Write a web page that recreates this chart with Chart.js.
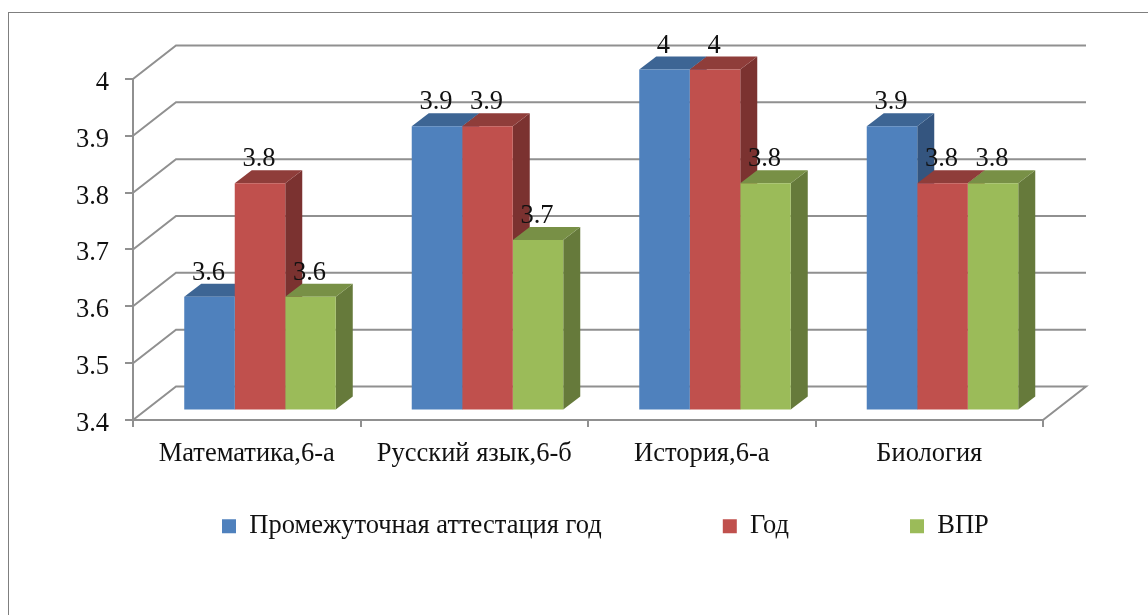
<!DOCTYPE html>
<html lang="ru">
<head>
<meta charset="utf-8">
<title>Chart</title>
<script src="https://cdn.jsdelivr.net/npm/chart.js@4/dist/chart.umd.js"></script>
<style>
    body { margin: 0; background: #fff; overflow: hidden; }
    .frame { position: absolute; left: 8px; top: 12px; width: 1200px; height: 700px; border-left: 1px solid #7f7f7f; border-top: 1px solid #7f7f7f; }
    canvas { position: absolute; left: 0; top: 0; }
</style>
</head>
<body>
<div class="frame"></div>
<canvas id="barChart" width="1148" height="615"></canvas>
<script>
// Chart data
const categories = ['Математика,6-а', 'Русский язык,6-б', 'История,6-а', 'Биология'];
const attestationData = [3.6, 3.9, 4, 3.9];
const yearData = [3.8, 3.9, 4, 3.8];
const vprData = [3.6, 3.7, 3.8, 3.8];
const yTicks = [3.4, 3.5, 3.6, 3.7, 3.8, 3.9, 4];

// Fake 3D settings
const gridColor = '#909090';
const wallX = 43, wallY = 33.5;   // back wall offset
const barX = 13.25, barY = 9.5;   // bars stand a bit inside the floor
const depthX = 17, depthY = 13;   // bar depth
const topColors = ['#3d6594', '#8f3d3a', '#789046'];
const sideColors = ['#34557f', '#7b3230', '#667a3b'];
const fontName = '"Liberation Serif", "Times New Roman", serif';
const fontSize = 26.5;

function drawFace(ctx, points, color) {
    ctx.fillStyle = color;
    ctx.beginPath();
    points.forEach((p, i) => i ? ctx.lineTo(p[0], p[1]) : ctx.moveTo(p[0], p[1]));
    ctx.closePath();
    ctx.fill();
}

// Back wall, side wall and floor lines
function drawWalls(chart) {
    const ctx = chart.ctx, area = chart.chartArea, yScale = chart.scales.y;
    ctx.save();
    ctx.strokeStyle = gridColor;
    ctx.lineWidth = 2;
    yTicks.forEach(value => {
        const y = yScale.getPixelForValue(value);
        ctx.beginPath();
        ctx.moveTo(area.left, y);
        ctx.lineTo(area.left + wallX, y - wallY);
        ctx.lineTo(area.right + wallX, y - wallY);
        if (value === yTicks[0]) ctx.lineTo(area.right, y);
        ctx.stroke();
    });
    ctx.restore();
}

// Top and side faces, left to right so that neighbours overlap properly
function drawBarFaces(chart) {
    const ctx = chart.ctx;
    categories.forEach((name, index) => {
        chart.data.datasets.forEach((dataset, d) => {
            const bar = chart.getDatasetMeta(d).data[index];
            const left = bar.x - bar.width / 2 + barX, right = bar.x + bar.width / 2 + barX;
            const top = bar.y - barY, base = bar.base - barY;
            drawFace(ctx, [[right, top], [right + depthX, top - depthY], [right + depthX, base - depthY], [right, base]], sideColors[d]);
            drawFace(ctx, [[left, top], [left + depthX, top - depthY], [right + depthX, top - depthY], [right, top]], topColors[d]);
        });
    });
}

function drawValueLabels(chart) {
    const ctx = chart.ctx;
    ctx.save();
    ctx.font = fontSize + 'px ' + fontName;
    ctx.fillStyle = '#111';
    ctx.textAlign = 'center';
    ctx.textBaseline = 'alphabetic';
    chart.data.datasets.forEach((dataset, d) => {
        chart.getDatasetMeta(d).data.forEach((bar, i) => {
            ctx.fillText(String(dataset.data[i]), bar.x + barX - 1, bar.y - barY - 17);
        });
    });
    ctx.restore();
}

const bars3d = {
    id: 'bars3d',
    afterLayout(chart) {
        // legend sits higher than its big row padding would allow
        chart.legend.left = 222 - chart.legend.options.labels.padding;
        chart.legend.top = 513 - chart.legend.options.labels.padding;
        chart.legend.right = 1148;
    },
    beforeDatasetsDraw(chart) {
        drawWalls(chart);
        drawBarFaces(chart);
        chart.ctx.save();
        chart.ctx.translate(barX, -barY);
    },
    afterDatasetsDraw(chart) {
        chart.ctx.restore();
        drawValueLabels(chart);
    }
};

function makeDataset(label, data, color) {
    return { label: label, data: data, base: yTicks[0], backgroundColor: color, borderWidth: 0, clip: false, categoryPercentage: 0.666, barPercentage: 1 };
}

function initChart() {
    const ctx = document.getElementById('barChart').getContext('2d');
    new Chart(ctx, {
        type: 'bar',
        data: {
            labels: categories,
            datasets: [
                makeDataset('Промежуточная аттестация год', attestationData, '#4f81bd'),
                makeDataset('Год', yearData, '#c0504d'),
                makeDataset('ВПР', vprData, '#9bbb59')
            ]
        },
        plugins: [bars3d],
        options: {
            responsive: false,
            animation: false,
            layout: { padding: { left: 0, top: 79, right: 105, bottom: -12.5 } },
            plugins: {
                tooltip: { enabled: false },
                legend: {
                    position: 'bottom',
                    align: 'start',
                    labels: {
                        boxWidth: 14,
                        boxHeight: 14,
                        padding: 121,
                        color: '#111',
                        font: { family: fontName, size: fontSize }
                    }
                }
            },
            scales: {
                x: {
                    afterFit(scale) { scale.height = 50; },
                    grid: { drawOnChartArea: false, color: gridColor, lineWidth: 2, tickLength: 7 },
                    border: { color: gridColor, width: 2 },
                    ticks: { color: '#111', padding: 11, maxRotation: 0, autoSkip: false, font: { family: fontName, size: fontSize } }
                },
                y: {
                    min: yTicks[0],
                    max: yTicks[yTicks.length - 1],
                    afterFit(scale) { scale.width = 133; },
                    afterBuildTicks(scale) { scale.ticks = yTicks.map(v => ({ value: v })); },
                    grid: { drawOnChartArea: false, color: gridColor, lineWidth: 2, tickLength: 8 },
                    border: { color: gridColor, width: 2 },
                    ticks: { color: '#111', padding: 16, labelOffset: 4, font: { family: fontName, size: fontSize }, callback: value => String(value) }
                }
            }
        }
    });
}

document.addEventListener('DOMContentLoaded', initChart);
</script>
</body>
</html>
